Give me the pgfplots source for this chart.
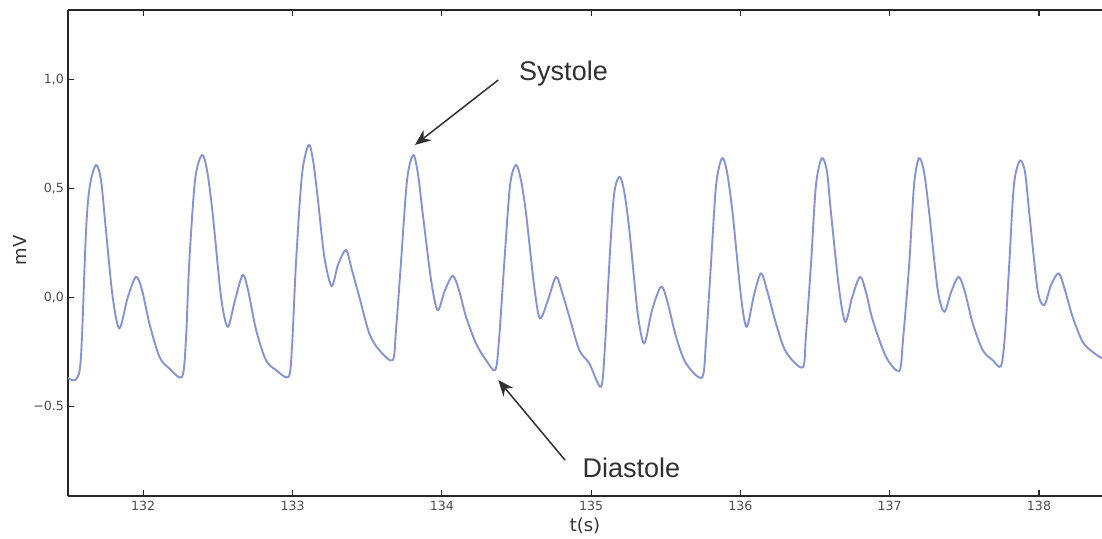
\documentclass[border=0pt]{standalone}
\usepackage{fontspec}
\setmainfont{DejaVu Sans}
\newfontfamily\arialf{Liberation Sans}
\usepackage{pgfplots}
\pgfplotsset{compat=1.18}
\usetikzlibrary{arrows.meta}
\definecolor{ecg}{HTML}{8493D3}
\definecolor{ann}{HTML}{303030}
\begin{document}
\begin{tikzpicture}
\begin{axis}[
  at={(0,0)}, anchor=south west,
  scale only axis, width=517pt, height=243pt,
  xmin=131.496, xmax=138.422, ymin=-0.911, ymax=1.318,
  axis x line*=box, axis y line*=left,
  axis line style={color=black!85, line width=0.8pt},
  xtick={132,133,134,135,136,137,138},
  ytick={-0.5,0,0.5,1},
  yticklabels={−0.5,{0,0},{0,5},{1,0}},
  tick align=inside, major tick length=3pt,
  tick style={color=black!85, line width=0.6pt},
  ticklabel style={font=\fontsize{6.3}{7}\selectfont, color=black!70},
  xticklabel style={yshift=1pt},
  yticklabel style={xshift=1.5pt},
  /pgf/number format/assume math mode=true,
  xlabel={t(s)}, ylabel={mV},
  label style={font=\fontsize{9}{10}\selectfont, color=black!80},
  xlabel style={at={(axis description cs:0.5,-0.0617)}, anchor=center},
  ylabel style={at={(axis description cs:-0.0464,0.506)}, anchor=center},
  clip=true,
]
\addplot[ecg, line width=0.95pt, smooth, tension=0.5] coordinates {
(131.496,-0.370) (131.550,-0.376) (131.583,-0.272) (131.617,0.309) (131.643,0.515)
(131.684,0.607) (131.717,0.538) (131.750,0.309) (131.795,0.003) (131.840,-0.142)
(131.895,-0.003) (131.951,0.094) (131.992,0.033) (132.041,-0.119) (132.108,-0.272)
(132.175,-0.326) (132.260,-0.364) (132.286,-0.196) (132.308,0.157) (132.347,0.538)
(132.393,0.653) (132.427,0.584) (132.465,0.385) (132.521,0.003) (132.566,-0.135)
(132.615,-0.012) (132.666,0.102) (132.702,0.033) (132.756,-0.150) (132.822,-0.288)
(132.889,-0.333) (132.974,-0.364) (132.997,-0.219) (133.023,0.156) (133.063,0.561)
(133.108,0.699) (133.137,0.630) (133.168,0.461) (133.213,0.186) (133.262,0.052)
(133.304,0.148) (133.358,0.217) (133.398,0.125) (133.447,0.003) (133.514,-0.165)
(133.581,-0.242) (133.671,-0.288) (133.693,-0.150) (133.726,0.156) (133.767,0.538)
(133.809,0.653) (133.841,0.561) (133.872,0.385) (133.928,0.079) (133.972,-0.058)
(134.021,0.033) (134.073,0.099) (134.115,0.033) (134.162,-0.089) (134.229,-0.211)
(134.296,-0.288) (134.358,-0.333) (134.383,-0.196) (134.418,0.156) (134.457,0.515)
(134.497,0.607) (134.530,0.538) (134.564,0.385) (134.619,0.049) (134.657,-0.096)
(134.711,-0.012) (134.765,0.094) (134.805,0.024) (134.854,-0.089) (134.921,-0.242)
(134.988,-0.303) (135.066,-0.410) (135.093,-0.219) (135.122,0.156) (135.153,0.469)
(135.189,0.553) (135.220,0.492) (135.256,0.309) (135.312,-0.073) (135.356,-0.211)
(135.408,-0.058) (135.468,0.049) (135.508,-0.012) (135.569,-0.181) (135.636,-0.303)
(135.743,-0.367) (135.770,-0.196) (135.803,0.156) (135.837,0.515) (135.877,0.638)
(135.910,0.575) (135.948,0.385) (136.004,0.003) (136.042,-0.135) (136.091,0.011)
(136.138,0.110) (136.178,0.033) (136.238,-0.119) (136.305,-0.250) (136.417,-0.321)
(136.439,-0.173) (136.473,0.156) (136.506,0.515) (136.546,0.638) (136.580,0.575)
(136.607,0.385) (136.662,0.033) (136.703,-0.112) (136.747,-0.003) (136.801,0.094)
(136.841,0.024) (136.886,-0.104) (136.975,-0.272) (137.064,-0.337) (137.089,-0.196)
(137.131,0.156) (137.163,0.515) (137.196,0.638) (137.230,0.575) (137.265,0.385)
(137.322,0.033) (137.366,-0.066) (137.411,0.024) (137.462,0.094) (137.504,0.024)
(137.556,-0.119) (137.623,-0.242) (137.690,-0.288) (137.745,-0.315) (137.772,-0.173)
(137.801,0.156) (137.832,0.515) (137.872,0.627) (137.906,0.575) (137.935,0.385)
(137.991,0.033) (138.035,-0.035) (138.080,0.056) (138.132,0.110) (138.174,0.033)
(138.225,-0.089) (138.292,-0.204) (138.359,-0.250) (138.422,-0.280)
};
\draw[ann, line width=0.75pt, -{Stealth[length=8pt,width=6.5pt]}] (axis cs:134.378,0.997) -- (axis cs:133.820,0.699);
\draw[ann, line width=0.75pt, -{Stealth[length=8pt,width=6.5pt]}] (axis cs:134.825,-0.746) -- (axis cs:134.378,-0.379);
\node[ann, font=\arialf\fontsize{13.5}{15}\selectfont] at (axis cs:134.815,1.027) {Systole};
\node[ann, font=\arialf\fontsize{13.5}{15}\selectfont] at (axis cs:135.270,-0.783) {Diastole};
\end{axis}
\pgfresetboundingbox
\path[use as bounding box] (-34pt,-21pt) rectangle (517pt,248pt);
\end{tikzpicture}
\end{document}
